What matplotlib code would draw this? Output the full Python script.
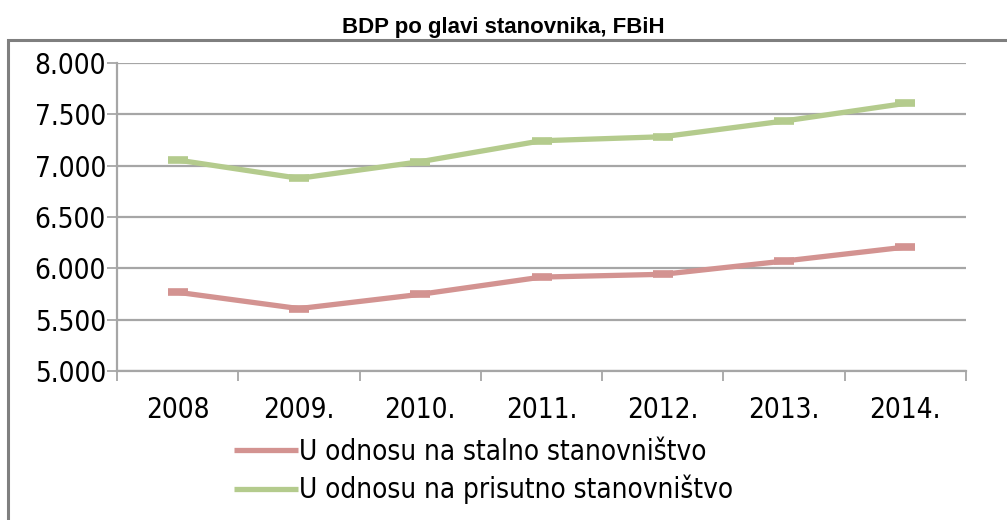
import matplotlib
matplotlib.use("Agg")
import matplotlib.pyplot as plt
from matplotlib.patches import Rectangle

# data
years = ['2008', '2009.', '2010.', '2011.', '2012.', '2013.', '2014.']
stalno = [5767, 5608, 5747, 5915, 5942, 6071, 6207]
prisutno = [7055, 6877, 7039, 7243, 7282, 7435, 7607]
yticks = [5000, 5500, 6000, 6500, 7000, 7500, 8000]
ylabels = ['5.000', '5.500', '6.000', '6.500', '7.000', '7.500', '8.000']
names = ['U odnosu na stalno stanovništvo', 'U odnosu na prisutno stanovništvo']

red = '#D39391'
green = '#B4CB8D'
grid = '#A6A6A6'
tick_font = {'family': 'DejaVu Sans', 'stretch': 'condensed', 'size': 20}

fig = plt.figure(figsize=(10.07, 5.2), dpi=100)
ax = fig.add_axes([0.1162, 0.2865, 0.8431, 0.5923])

x = list(range(len(years)))
l1, = ax.plot(x, stalno, color=red, lw=3.8, marker='_', ms=15, mew=5.5,
              solid_capstyle='butt', label=names[0])
l2, = ax.plot(x, prisutno, color=green, lw=3.8, marker='_', ms=15, mew=5.5,
              solid_capstyle='butt', label=names[1])

ax.set_xlim(-0.5, len(years) - 0.5)
ax.set_ylim(5000, 8000)
ax.set_yticks(yticks)
ax.set_yticklabels(ylabels, fontdict=tick_font)
ax.set_xticks(x)
ax.set_xticklabels(years, fontdict=tick_font)
ax.set_xticks([i - 0.5 for i in range(len(years) + 1)], minor=True)
ax.tick_params(axis='x', which='major', length=0, pad=18)
ax.tick_params(axis='x', which='minor', length=7, width=1.3, color=grid)
ax.tick_params(axis='y', length=7, width=1.3, color=grid, pad=1)
ax.yaxis.grid(True, color=grid, lw=1.6)
ax.set_axisbelow(True)
for s in ['top', 'right']:
    ax.spines[s].set_visible(False)
for s in ['left', 'bottom']:
    ax.spines[s].set_color(grid)
    ax.spines[s].set_linewidth(1.6)

leg = fig.legend(handles=[l1, l2], loc='upper left', bbox_to_anchor=(0.232, 0.158),
                 frameon=False, prop=tick_font,
                 handlelength=2.3, handletextpad=0.05, labelspacing=0.32,
                 borderaxespad=0, borderpad=0)
for h in leg.legend_handles:
    h.set_marker('')

fig.text(0.5, 1 - 28 / 520, 'BDP po glavi stanovnika, FBiH', ha='center', va='center',
         fontsize=16, fontweight='bold', family=['Liberation Sans', 'DejaVu Sans'])

fig.patches.append(Rectangle((8 / 1007, -0.05), 1.2, 1 - 40 / 520 + 0.05,
                             transform=fig.transFigure, fill=False,
                             edgecolor='#7F7F7F', lw=2.2))

fig.savefig('out.png', dpi=100)
